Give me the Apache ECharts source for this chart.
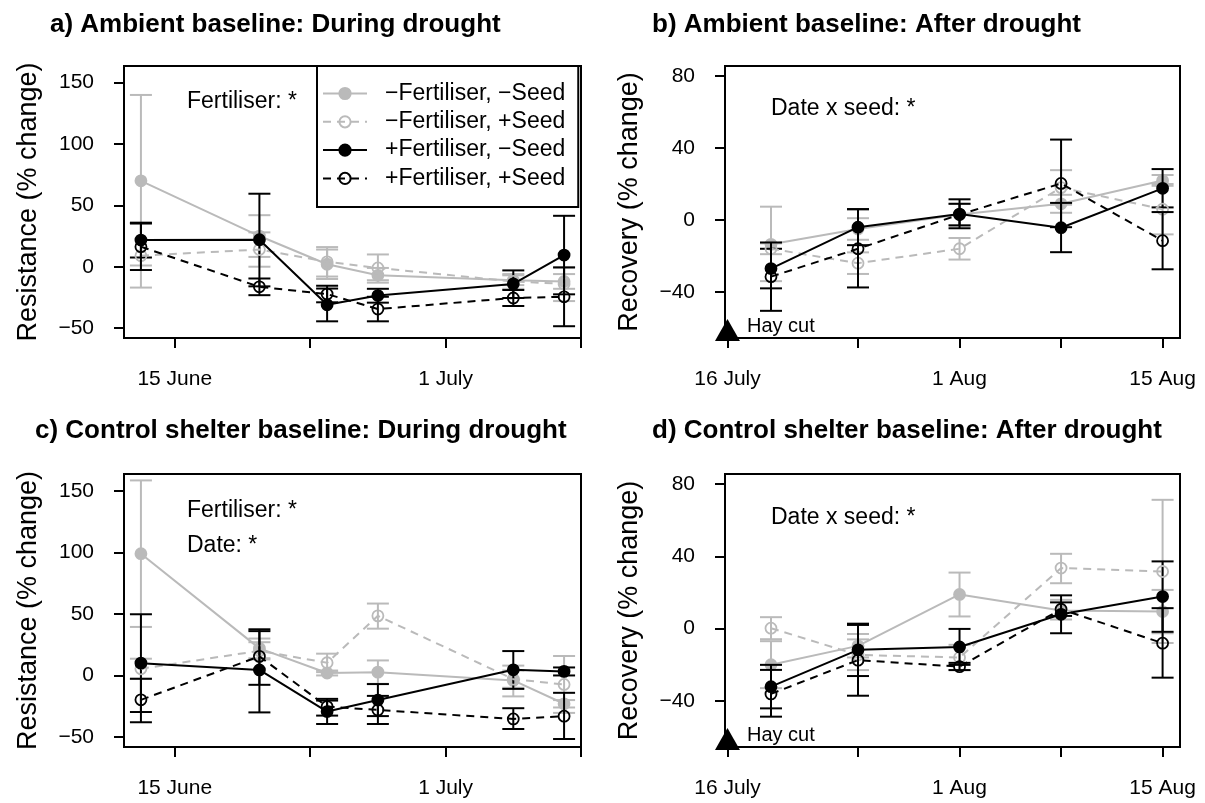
<!DOCTYPE html>
<html>
<head>
<meta charset="utf-8">
<script src="https://cdn.jsdelivr.net/npm/echarts@6/dist/echarts.min.js"></script>
<style>
  html, body { margin: 0; padding: 0; background: #fff; }
  #chart { width: 1205px; height: 803px; }
</style>
</head>
<body>
<div id="chart"></div>
<script>
// sampling dates: days after 15 June (during drought) and after 16 July (after drought)
var duringDays = [-2, 5, 9, 12, 20, 23];
var afterDays = [3, 9, 16, 23, 30];
var duringTicks = [0, 8, 16, 24];
var duringLabels = { 0: '15 June', 16: '1 July' };
var afterTicks = [0, 9, 16, 23, 30];
var afterLabels = { 0: '16 July', 16: '1 Aug', 30: '15 Aug' };
var resistTicks = [-50, 0, 50, 100, 150];
var recovTicks = [-40, 0, 40, 80];
var hayCut = [0];

var groups = ['−Fertiliser, −Seed', '−Fertiliser, +Seed', '+Fertiliser, −Seed', '+Fertiliser, +Seed'];

// a) ambient baseline, during drought (one row per group)
var aMean = [[70, 25, 2, -7, -11, -12], [9, 14, 4, -1, -12, -14], [21.7, 22, -31, -23.5, -14, 9.5], [16.3, -16.4, -22.3, -34.5, -25.5, -24.5]];
var aLow = [[1, 8, -10, -13, -15, -18], [-17, 0, -8, -11, -18, -28], [7.5, -16, -44.5, -29.3, -25.5, -22.5], [-2.7, -23.2, -29, -44.5, -32, -48.5]];
var aHigh = [[140, 42, 14, -1, -7, -6], [35, 28, 16, 10, -6, -1], [35.9, 59.5, -17.8, -18, -3, 41.5], [35.3, -9.6, -15.5, -24.5, -19, -0.5]];

// b) ambient baseline, after drought
var bMean = [[-13.5, -5, 3, 9, 22], [-16, -24, -16, 18, 6], [-27, -4, 3.3, -4.3, 17.6], [-31.5, -16, 3, 20.3, -11.5]];
var bLow = [[-34, -11, -3, 4, 19], [-19, -30, -22, 8.5, -8], [-38, -14, -4.6, -17.9, 7], [-50.5, -37.5, -3, -4, -27.4]];
var bHigh = [[7.4, 1, 9, 14, 25], [-13, -18, -10, 27.7, 20], [-16, 6, 11.5, 9.5, 28.3], [-12.5, 6, 9, 44.7, 4.4]];

// c) control shelter baseline, during drought
var cMean = [[98.9, 22, 2, 2.7, -4, -23], [5.4, 20, 10.3, 48.4, -3, -7.3], [10, 4.5, -29.3, -20, 4.6, 3.3], [-19.8, 15.5, -25.3, -28, -35.3, -33.1]];
var cLow = [[39.4, 14, 0, -6.8, -17, -26], [-2.6, 13, 2.7, 38, -10, -30.4], [-29.7, -30, -39.4, -33, -10.9, 0], [-38, -7.6, -32.6, -39.4, -43.5, -51.6]];
var cHigh = [[158.4, 30, 4, 12.2, 8, -20], [13.6, 27, 17.7, 58.4, 4, 15.8], [49.7, 37.5, -19, -7, 19.8, 6.5], [-2.7, 36, -20.4, -16.6, -26.6, -14.1]];

// d) control shelter baseline, after drought
var dMean = [[-20, -9.6, 18.9, 10, 9.4], [0.2, -14.6, -16, 33.5, 31.6], [-32.2, -11.8, -10.2, 7.9, 17.7], [-36.2, -17.5, -21.1, 10.7, -8.1]];
var dLow = [[-33, -16, 6.7, 5, -2.6], [-5.9, -23, -23, 25.1, -8], [-44.2, -26.3, -20.1, -2.6, -1.8], [-48.8, -37.2, -23, 7, -27.2]];
var dHigh = [[-7, -3, 31, 15.9, 21.4], [6.3, -6, -9, 41.4, 71.3], [-20.1, 2.7, -0.2, 18.4, 37.2], [-22.9, 2, -19, 14.5, 11.3]];

var FONT = '"Liberation Sans", Arial, Helvetica, sans-serif';
var GREY = '#bababa';
var looks = [
  { color: GREY, dash: 'solid', fill: true },
  { color: GREY, dash: [8, 6], fill: false },
  { color: '#000', dash: 'solid', fill: true },
  { color: '#000', dash: [8, 6], fill: false }
];

var myChart = echarts.init(document.getElementById('chart'), null, { renderer: 'canvas' });

var grids = [
  { left: 124, top: 66, width: 457, height: 272 },
  { left: 725, top: 66, width: 455, height: 272 },
  { left: 124, top: 474, width: 457, height: 273 },
  { left: 725, top: 474, width: 455, height: 273 }
].map(function (g) {
  return Object.assign({ show: true, borderColor: '#000', borderWidth: 2, backgroundColor: 'transparent', containLabel: false }, g);
});

function xAxisFor(i, during) {
  var ticks = during ? duringTicks : afterTicks;
  var labels = during ? duringLabels : afterLabels;
  return {
    type: 'value', gridIndex: i, position: 'bottom',
    min: during ? -3 : -0.17, max: during ? 24 : 31.2,
    axisLine: { show: false, onZero: false },
    splitLine: { show: false },
    axisTick: { show: true, inside: false, length: 10, customValues: ticks, lineStyle: { color: '#000', width: 2 } },
    axisLabel: {
      show: true, margin: 31, fontSize: 21, color: '#000', fontFamily: FONT,
      customValues: Object.keys(labels).map(Number),
      formatter: function (v) { return labels[v] || ''; }
    }
  };
}

function yAxisFor(i, resist) {
  var ticks = resist ? resistTicks : recovTicks;
  return {
    type: 'value', gridIndex: i, position: 'left',
    min: resist ? -58.1 : -65.6, max: resist ? 163.6 : 85.6,
    name: resist ? 'Resistance (% change)' : 'Recovery (% change)',
    nameLocation: 'middle', nameGap: 82, nameRotate: 90,
    nameTextStyle: { fontSize: 27, color: '#000', fontFamily: FONT },
    axisLine: { show: false, onZero: false },
    splitLine: { show: false },
    axisTick: { show: true, inside: false, length: 10, customValues: ticks, lineStyle: { color: '#000', width: 2 } },
    axisLabel: {
      show: true, margin: 30, fontSize: 21, color: '#000', fontFamily: FONT,
      customValues: ticks,
      formatter: function (v) { return String(v).replace('-', '−'); }
    }
  };
}

function errBars(color) {
  return function (params, api) {
    var x = api.value(0);
    var p1 = api.coord([x, api.value(1)]);
    var p2 = api.coord([x, api.value(2)]);
    var w = 11;
    var st = { stroke: color, lineWidth: 2 };
    return {
      type: 'group',
      children: [
        { type: 'line', shape: { x1: p1[0], y1: p1[1], x2: p2[0], y2: p2[1] }, style: st },
        { type: 'line', shape: { x1: p1[0] - w, y1: p1[1], x2: p1[0] + w, y2: p1[1] }, style: st },
        { type: 'line', shape: { x1: p2[0] - w, y1: p2[1], x2: p2[0] + w, y2: p2[1] }, style: st }
      ]
    };
  };
}

var series = [];
var panels = [
  { days: duringDays, mean: aMean, low: aLow, high: aHigh },
  { days: afterDays, mean: bMean, low: bLow, high: bHigh },
  { days: duringDays, mean: cMean, low: cLow, high: cHigh },
  { days: afterDays, mean: dMean, low: dLow, high: dHigh }
];

panels.forEach(function (p, pi) {
  groups.forEach(function (name, gi) {
    var lk = looks[gi];
    series.push({
      name: name + ' error', type: 'custom', xAxisIndex: pi, yAxisIndex: pi,
      renderItem: errBars(lk.color),
      encode: { x: 0, y: [1, 2] },
      data: p.days.map(function (d, k) { return [d, p.low[gi][k], p.high[gi][k]]; }),
      z: 2 + gi, silent: true
    });
    series.push({
      name: name, type: 'line', xAxisIndex: pi, yAxisIndex: pi,
      data: p.days.map(function (d, k) { return [d, p.mean[gi][k]]; }),
      symbol: 'circle', symbolSize: 11, showSymbol: true,
      lineStyle: { color: lk.color, width: 2, type: lk.dash },
      itemStyle: { color: lk.fill ? lk.color : 'rgba(0,0,0,0)', borderColor: lk.color, borderWidth: 1.8 },
      z: 3 + gi, silent: true
    });
  });
});

[1, 3].forEach(function (pi) {
  series.push({
    name: 'Hay cut', type: 'scatter', xAxisIndex: pi, yAxisIndex: pi,
    data: hayCut.map(function (d) { return [d, -65.6]; }),
    symbol: 'triangle', symbolSize: [25, 22], symbolOffset: [0, -8],
    itemStyle: { color: '#000', opacity: 1 }, clip: false, z: 10, silent: true,
    label: { show: true, formatter: 'Hay cut', position: 'right', distance: 7, offset: [0, -4], fontSize: 20, color: '#000', fontFamily: FONT }
  });
});

function txt(text, left, top) {
  return { type: 'text', left: left, top: top, style: { text: text, font: '23px ' + FONT, fill: '#000' } };
}

var option = {
  animation: false,
  backgroundColor: '#fff',
  title: [
    { text: 'a) Ambient baseline: During drought', left: 50, top: 12 },
    { text: 'b) Ambient baseline: After drought', left: 652, top: 12 },
    { text: 'c) Control shelter baseline: During drought', left: 35, top: 418 },
    { text: 'd) Control shelter baseline: After drought', left: 652, top: 418 }
  ].map(function (t) {
    t.padding = 0;
    t.textStyle = { fontSize: 26, fontWeight: 'bold', color: '#000', fontFamily: FONT };
    return t;
  }),
  legend: {
    data: groups, orient: 'vertical', left: 317, top: 66,
    selectedMode: false,
    backgroundColor: '#fff', borderColor: '#000', borderWidth: 2,
    padding: [16, 13, 17, 5], itemGap: 5.3, itemWidth: 44, itemHeight: 14,
    textStyle: { fontSize: 23, color: '#000', fontFamily: FONT, lineHeight: 23, padding: [0, 0, 0, 13] }
  },
  grid: grids,
  xAxis: [xAxisFor(0, true), xAxisFor(1, false), xAxisFor(2, true), xAxisFor(3, false)],
  yAxis: [yAxisFor(0, true), yAxisFor(1, false), yAxisFor(2, true), yAxisFor(3, false)],
  graphic: [
    txt('Fertiliser: *', 187, 90),
    txt('Date x seed: *', 771, 97),
    txt('Fertiliser: *', 187, 499),
    txt('Date: *', 187, 534),
    txt('Date x seed: *', 771, 506)
  ],
  series: series
};

myChart.setOption(option);
</script>
</body>
</html>
